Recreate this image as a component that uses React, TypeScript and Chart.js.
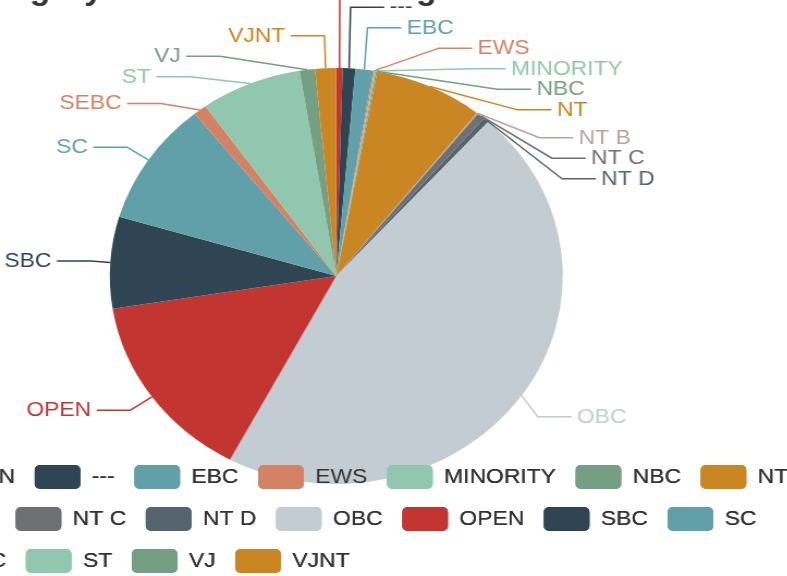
import { useEffect, useRef } from "react";
import { Chart, registerables } from "chart.js";

Chart.register(...registerables);

// ---- data ----
const TITLE = "Category wise Student Strength";
const categories = [" OPEN", "---", "EBC", "EWS", "MINORITY", "NBC", "NT", "NT B", "NT C", "NT D", "OBC", "OPEN", "SBC", "SC", "SEBC", "ST", "VJ", "VJNT"];
const counts = [9, 18, 25, 2, 2, 2, 155, 2, 11, 8, 921, 294, 142, 193, 19, 144, 22, 30];
const palette = ["#c23531", "#2f4554", "#61a0a8", "#d48265", "#91c7ae", "#749f83", "#ca8622", "#bda29a", "#6e7074", "#546570", "#c4ccd3"];

// ---- layout / style ----
const FONT = '"Liberation Sans", Arial, sans-serif';
const SX = 1.089; // horizontal stretch of the reference picture
const CW = 900;
const CH = 590;
const LEFT = -121.8;
const TITLE_X = 82;
const LEN = 23;
const LEN2 = 31;
const LABEL_H = 20.5;
const GAP = 5;
const LABEL_FONT = 21;

const colors = categories.map((_, i) => palette[i % palette.length]);

type Item = {
  i: number;
  x: number;
  y: number;
  height: number;
  len: number;
  len2: number;
  pts: number[][];
  color: string;
};

function adjustSide(list: Item[], cx: number, cy: number, r: number, dir: number) {
  list.sort((a, b) => a.y - b.y);
  const n = list.length;
  const shiftUp = (end: number, delta: number) => {
    for (let j = end; j >= 0; j--) {
      list[j].y -= delta;
      if (j > 0 && list[j].y > list[j - 1].y + list[j - 1].height) break;
    }
  };
  const shiftDown = (start: number, end: number, delta: number) => {
    for (let j = start; j < end; j++) {
      list[j].y += delta;
      if (j > start && j + 1 < end && list[j + 1].y > list[j].y + list[j].height) {
        shiftUp(j, delta / 2);
        return;
      }
    }
    shiftUp(end - 1, delta / 2);
  };
  let lastY = -1000;
  for (let i = 0; i < n; i++) {
    const delta = list[i].y - lastY;
    if (delta < 0) shiftDown(i, n, -delta);
    lastY = list[i].y + list[i].height;
  }
  const up: Item[] = [];
  const down: Item[] = [];
  list.forEach((it) => (it.y >= cy ? down : up).push(it));
  const changeX = (arr: Item[], isDown: boolean) => {
    let last = isDown ? Number.MAX_VALUE : 0;
    for (const it of arr) {
      const dY = Math.abs(it.y - cy);
      const R = r + it.len + it.len2;
      let dX = dY < r + it.len ? Math.sqrt(R * R - dY * dY) : Math.abs(it.x - cx);
      if (isDown && dX >= last) dX = last - 10;
      if (!isDown && dX <= last) dX = last + 10;
      it.x = cx + dX * dir;
      last = dX;
    }
  };
  changeX(up, false);
  changeX(down, true);
}

const pieLabels = {
  id: "pieLabels",
  afterDatasetsDraw(chart: any) {
    // legend sits on top of the pie, as in the reference
    if (chart.legend) chart.legend.draw(chart.chartArea);
  },
  afterDraw(chart: any) {
    const ctx: CanvasRenderingContext2D = chart.ctx;
    const meta = chart.getDatasetMeta(0);
    const items: Item[] = [];
    let cx = 0;
    let cy = 0;
    let r = 0;
    meta.data.forEach((arc: any, i: number) => {
      const p = arc.getProps(["x", "y", "startAngle", "endAngle", "outerRadius"], true);
      cx = p.x;
      cy = p.y;
      r = p.outerRadius;
      const mid = (p.startAngle + p.endAngle) / 2;
      const dx = Math.cos(mid);
      const dy = Math.sin(mid);
      const x1 = cx + r * dx;
      const y1 = cy + r * dy;
      const x2 = x1 + dx * LEN;
      const y2 = y1 + dy * LEN;
      const s = dx < 0 ? -1 : 1;
      const x3 = x2 + s * LEN2;
      items.push({
        i,
        x: x3 + s * GAP,
        y: y2,
        height: LABEL_H,
        len: LEN,
        len2: LEN2,
        pts: [[x1, y1], [x2, y2], [x3, y2]],
        color: colors[i],
      });
    });
    const left: Item[] = [];
    const right: Item[] = [];
    items.forEach((it) => (it.x < cx ? left : right).push(it));
    adjustSide(right, cx, cy, r, 1);
    adjustSide(left, cx, cy, r, -1);

    ctx.save();
    items.forEach((it) => {
      const p = it.pts;
      const isLeft = it.x < cx;
      const dist = p[1][0] - p[2][0];
      p[2][0] = isLeft ? it.x + GAP : it.x - GAP;
      p[1][1] = p[2][1] = it.y;
      p[1][0] = p[2][0] + dist;
      ctx.strokeStyle = it.color;
      ctx.lineWidth = 1.5;
      ctx.lineJoin = "round";
      ctx.beginPath();
      ctx.moveTo(p[0][0], p[0][1]);
      ctx.lineTo(p[1][0], p[1][1]);
      ctx.lineTo(p[2][0], p[2][1]);
      ctx.stroke();
      ctx.fillStyle = it.color;
      ctx.font = `${LABEL_FONT}px ${FONT}`;
      ctx.textAlign = isLeft ? "right" : "left";
      ctx.textBaseline = "middle";
      ctx.fillText(chart.data.labels[it.i], it.x, it.y);
    });
    // title (mostly above the visible area)
    ctx.fillStyle = "#333";
    ctx.font = `bold 31px ${FONT}`;
    ctx.textAlign = "left";
    ctx.textBaseline = "alphabetic";
    ctx.fillText(TITLE, TITLE_X, -1);
    ctx.restore();
  },
};

export default function App() {
  const ref = useRef<HTMLCanvasElement>(null);
  useEffect(() => {
    if (!ref.current) return;
    const chart = new Chart(ref.current, {
      type: "pie",
      data: {
        labels: categories,
        datasets: [
          {
            data: counts,
            backgroundColor: colors,
            borderWidth: 0,
            radius: 208,
          } as any,
        ],
      },
      options: {
        responsive: false,
        animation: false,
        events: [],
        layout: { padding: { top: 105, bottom: 7, left: 0, right: 0 } },
        plugins: {
          tooltip: { enabled: false },
          title: { display: false },
          subtitle: {
            display: true,
            position: "right",
            text: "",
            font: { size: 10, lineHeight: 1 },
            padding: { top: 28.4, bottom: 0 },
          },
          legend: {
            position: "bottom",
            align: "start",
            labels: {
              boxWidth: 42,
              boxHeight: 24,
              padding: 18,
              color: "#333",
              font: { family: FONT, size: LABEL_FONT },
              generateLabels(ch: any) {
                return ch.data.labels.map((t: string, i: number) => ({
                  text: t,
                  fillStyle: colors[i],
                  strokeStyle: colors[i],
                  lineWidth: 0,
                  borderRadius: 5,
                  hidden: false,
                  index: i,
                  fontColor: "#333",
                }));
              },
            },
          },
        },
      } as any,
      plugins: [pieLabels],
    });
    return () => chart.destroy();
  }, []);

  return (
    <div style={{ position: "absolute", left: 0, top: 0, width: 787, height: 576, overflow: "hidden", background: "#fff" }}>
      <div style={{ position: "absolute", left: 0, top: 0, transform: `scaleX(${SX})`, transformOrigin: "0 0" }}>
        <canvas
          ref={ref}
          width={CW}
          height={CH}
          style={{ position: "absolute", left: LEFT, top: 0, width: CW, height: CH }}
        />
      </div>
    </div>
  );
}
